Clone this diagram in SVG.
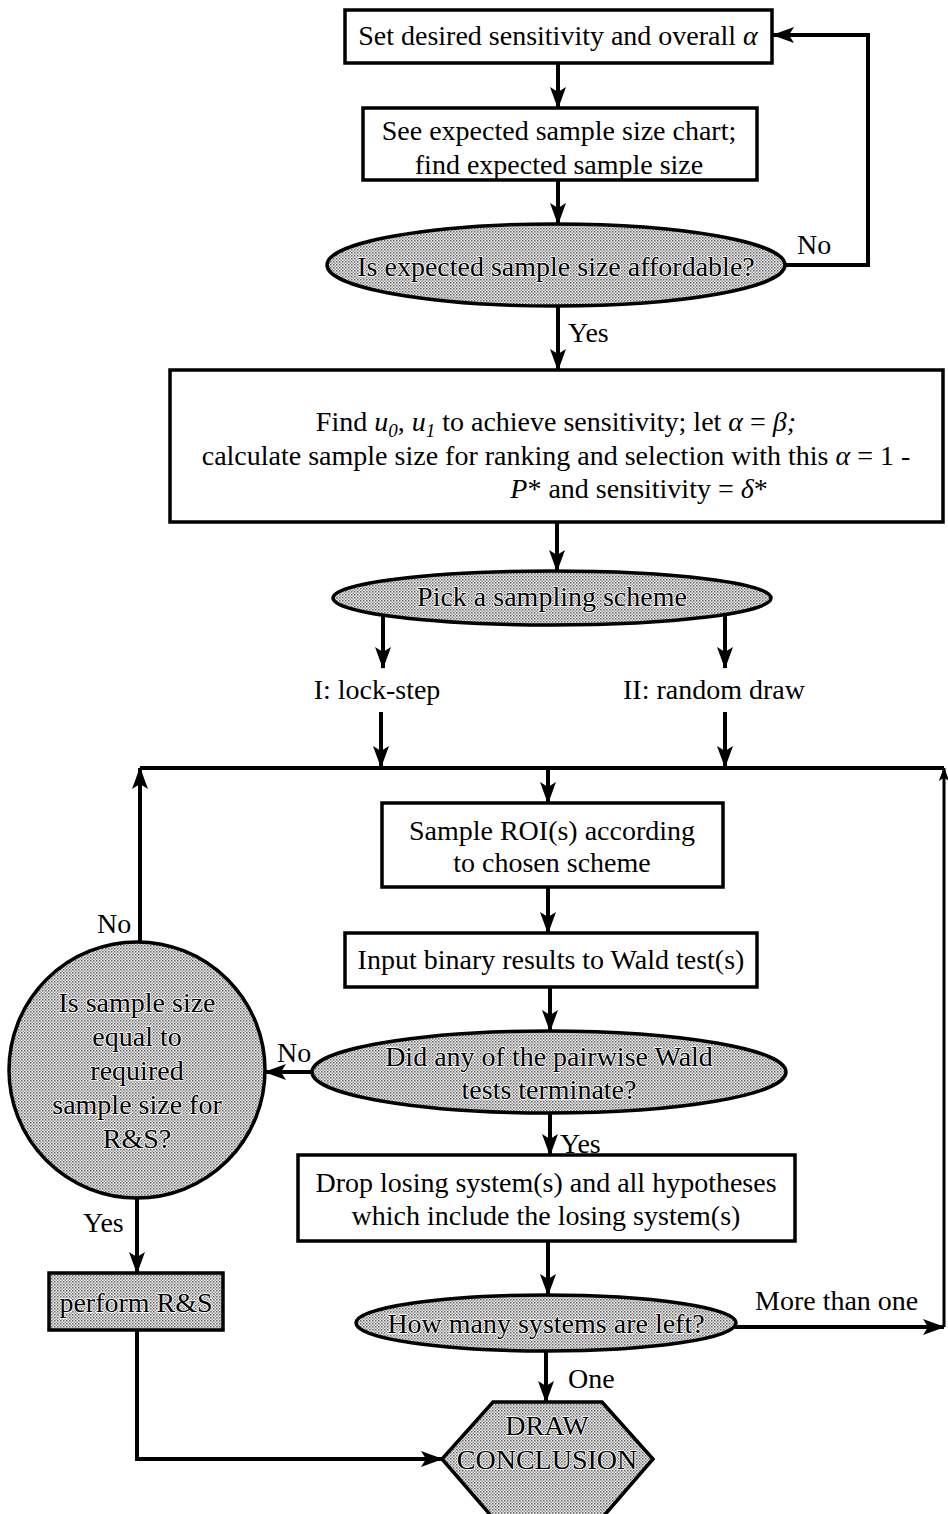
<svg xmlns="http://www.w3.org/2000/svg" width="948" height="1514" viewBox="0 0 948 1514">
<style>
text{font-family:"Liberation Serif","Times New Roman",serif;font-size:28px;fill:#000}
.c{text-anchor:middle}
.sh{paint-order:stroke;stroke:#fff;stroke-width:1.6px;stroke-linejoin:round;fill:#000}
.box{fill:#fff;stroke:#000;stroke-width:3.5}
.shade{fill:url(#dots);stroke:#000;stroke-width:3.5}
.con{fill:none;stroke:#000;stroke-width:4}
.arr{marker-end:url(#ah)}
.i{font-style:italic}
</style>
<defs>
<pattern id="dots" width="3" height="3" patternUnits="userSpaceOnUse">
<rect width="3" height="3" fill="#ececec"/>
<rect x="0" y="0" width="1.5" height="1.5" fill="#666"/>
<rect x="1.5" y="1.5" width="1.5" height="1.5" fill="#9a9a9a"/>
</pattern>
<marker id="ah" viewBox="0 0 22 16" markerWidth="22" markerHeight="16" refX="21" refY="8" orient="auto" markerUnits="userSpaceOnUse">
<path d="M0,0 L22,8 L0,16 L5,8 z" fill="#000"/>
</marker>
<marker id="ahs" viewBox="0 0 16 12" markerWidth="14" markerHeight="12" refX="15" refY="6" orient="auto" markerUnits="userSpaceOnUse">
<path d="M0,0 L16,6 L0,12 L4,6 z" fill="#000"/>
</marker>
</defs>

<g id="connectors">
<path class="con arr" d="M558,63 V108"/>
<path class="con arr" d="M558,180 V224"/>
<path class="con arr" d="M785,265 H868 V35 H773"/>
<path class="con arr" d="M558,306 V370"/>
<path class="con arr" d="M557,522 V571"/>
<path class="con arr" d="M383,615 V668"/>
<path class="con arr" d="M725,614 V668"/>
<path class="con arr" d="M381,712 V767"/>
<path class="con arr" d="M725,712 V767"/>
<path class="con" d="M140,768 H944"/>
<path class="con arr" d="M548,768 V803"/>
<path class="con arr" d="M548,887 V933"/>
<path class="con arr" d="M550,987 V1031"/>
<path class="con arr" d="M312,1072 H265"/>
<path class="con arr" d="M140,942 V768"/>
<path class="con arr" d="M550,1113 V1155"/>
<path class="con arr" d="M548,1241 V1295"/>
<path class="con arr" d="M735,1327 H944"/>
<path class="con" d="M944,1327 V768" style="marker-end:url(#ahs);stroke-width:3"/>
<path class="con arr" d="M546,1351 V1402"/>
<path class="con arr" d="M137,1198 V1273"/>
<path class="con arr" d="M137,1330 V1459 H442"/>
<text x="797" y="254">No</text>
<text x="568" y="342">Yes</text>
<text class="c" x="377" y="699">I: lock-step</text>
<text class="c" x="714" y="699">II: random draw</text>
<text x="97" y="933">No</text>
<text x="277" y="1062">No</text>
<text x="560" y="1153">Yes</text>
<text x="83" y="1232">Yes</text>
<text x="755" y="1310">More than one</text>
<text x="568" y="1388">One</text>
</g>

<g id="n1">
<rect class="box" x="345" y="10" width="427" height="53"/>
<text class="c" x="558" y="45">Set desired sensitivity and overall <tspan class="i">α</tspan></text>
</g>
<g id="n2">
<rect class="box" x="363" y="108" width="394" height="72"/>
<text class="c" x="559" y="140">See expected sample size chart;</text>
<text class="c" x="559" y="174">find expected sample size</text>
</g>
<g id="n3">
<ellipse class="shade" cx="556" cy="265" rx="229" ry="41"/>
<text class="c sh" x="556" y="276">Is expected sample size affordable?</text>
</g>
<g id="n4">
<rect class="box" x="170" y="370" width="773" height="152"/>
<text class="c" x="556" y="431">Find <tspan class="i">u</tspan><tspan class="i" font-size="19" dy="6">0</tspan><tspan dy="-6">, </tspan><tspan class="i">u</tspan><tspan class="i" font-size="19" dy="6">1</tspan><tspan dy="-6"> to achieve sensitivity; let </tspan><tspan class="i">α</tspan> = <tspan class="i">β;</tspan></text>
<text class="c" x="556" y="465">calculate sample size for ranking and selection with this <tspan class="i">α</tspan> = 1 -</text>
<text class="c" x="639" y="498"><tspan class="i">P</tspan>* and sensitivity = <tspan class="i">δ</tspan>*</text>
</g>
<g id="n5">
<ellipse class="shade" cx="552" cy="598" rx="219" ry="27"/>
<text class="c sh" x="552" y="606">Pick a sampling scheme</text>
</g>
<g id="n6">
<rect class="box" x="382" y="803" width="341" height="84"/>
<text class="c" x="552" y="840">Sample ROI(s) according</text>
<text class="c" x="552" y="872">to chosen scheme</text>
</g>
<g id="n7">
<rect class="box" x="345" y="933" width="412" height="54"/>
<text class="c" x="551" y="969">Input binary results to Wald test(s)</text>
</g>
<g id="n8">
<ellipse class="shade" cx="549" cy="1072" rx="237" ry="41"/>
<text class="c sh" x="549" y="1066">Did any of the pairwise Wald</text>
<text class="c sh" x="549" y="1099">tests terminate?</text>
</g>
<g id="n9">
<circle class="shade" cx="137" cy="1070" r="128"/>
<text class="c sh" x="137" y="1012">Is sample size</text>
<text class="c sh" x="137" y="1046">equal to</text>
<text class="c sh" x="137" y="1080">required</text>
<text class="c sh" x="137" y="1114">sample size for</text>
<text class="c sh" x="137" y="1148">R&amp;S?</text>
</g>
<g id="n10">
<rect class="box" x="298" y="1155" width="497" height="86"/>
<text class="c" x="546" y="1192">Drop losing system(s) and all hypotheses</text>
<text class="c" x="546" y="1225">which include the losing system(s)</text>
</g>
<g id="n11">
<ellipse class="shade" cx="546" cy="1323" rx="190" ry="28"/>
<text class="c sh" x="546" y="1333">How many systems are left?</text>
</g>
<g id="n12">
<rect class="shade" x="49" y="1273" width="174" height="57"/>
<text class="c sh" x="136" y="1312">perform R&amp;S</text>
</g>
<g id="n13">
<polygon class="shade" points="493,1402 602,1402 653,1459 602,1518 493,1518 442,1459"/>
<text class="c sh" x="547" y="1435" font-size="29">DRAW</text>
<text class="c sh" x="547" y="1469" font-size="29">CONCLUSION</text>
</g>
</svg>
